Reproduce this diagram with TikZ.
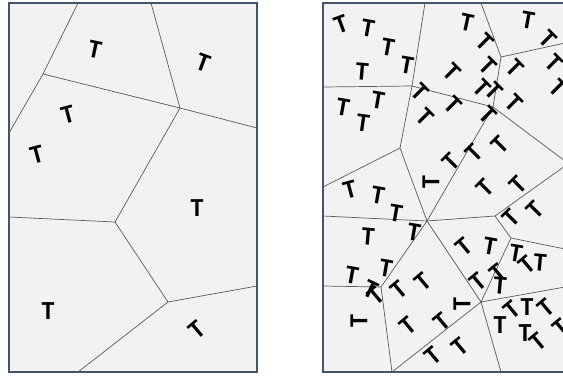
\documentclass[tikz,border=0pt]{standalone}
\usepackage{fontspec}
\setmainfont{Carlito}
\usepackage{tikz}
\definecolor{frameblue}{RGB}{68,84,106}
\definecolor{panelgray}{RGB}{242,242,242}
\definecolor{edgegray}{RGB}{90,90,90}
\begin{document}
\begin{tikzpicture}[x=1pt,y=-1pt,
  panel/.style={draw=frameblue,fill=panelgray,line width=1.3pt},
  cell/.style={draw=edgegray,line width=0.7pt},
  tee/.style={inner sep=0pt,font=\fontsize{26}{26}\selectfont\bfseries}]
\useasboundingbox[fill=white] (0,0) rectangle (563,376);
% left panel: few cells
\draw[panel] (9,3) rectangle (257,372);
\coordinate (a1) at (43,74);
\coordinate (a2) at (180,108);
\coordinate (a3) at (115,222);
\coordinate (a4) at (168,302);
\draw[cell] (78,3) -- (a1) -- (9,133);
\draw[cell] (a1) -- (a2) -- (257,128);
\draw[cell] (151,3) -- (a2) -- (a3) -- (9,217);
\draw[cell] (a3) -- (a4) -- (257,286);
\draw[cell] (a4) -- (78,372);
\node[tee,rotate=-12] (tl1) at (95,50) {T};
\node[tee,rotate=-20] (tl2) at (203,63) {T};
\node[tee,rotate=15] (tl3) at (68,115) {T};
\node[tee,rotate=15] (tl4) at (37,155) {T};
\node[tee] (tl5) at (197,208) {T};
\node[tee] (tl6) at (48,311) {T};
\node[tee,rotate=40] (tl7) at (197,330) {T};
% right panel: many cells
\draw[panel] (323,3) rectangle (568,372);
\coordinate (b1) at (412,86);
\coordinate (b2) at (400,148);
\coordinate (b3) at (427,221);
\coordinate (b4) at (493,107);
\coordinate (b5) at (481,302);
\coordinate (b6) at (381,287);
\coordinate (b7) at (392,372);
\coordinate (b8) at (495,216);
\coordinate (b9) at (511,238);
\coordinate (b10) at (501,57);
\draw[cell] (425,3) -- (b1) -- (323,87);
\draw[cell] (b1) -- (b2) -- (323,187);
\draw[cell] (b2) -- (b3) -- (323,216);
\draw[cell] (b1) -- (b4) -- (b10) -- (481,3);
\draw[cell] (b10) -- (565,43);
\draw[cell] (b4) -- (565,161);
\draw[cell] (b4) -- (b3) -- (b8) -- (565,166);
\draw[cell] (b8) -- (b9) -- (565,249);
\draw[cell] (b9) -- (b5) -- (565,287);
\draw[cell] (b5) -- (b3) -- (b6) -- (323,286);
\draw[cell] (b6) -- (b7) -- (b5) -- (501,372);
\node[tee,rotate=20] (tr1) at (341,24) {T};
\node[tee,rotate=-10] (tr2) at (368,28) {T};
\node[tee,rotate=-10] (tr3) at (388,47) {T};
\node[tee,rotate=-10] (tr4) at (407,65) {T};
\node[tee,rotate=-5] (tr5) at (362,72) {T};
\node[tee,rotate=-10] (tr6) at (343,107) {T};
\node[tee,rotate=-10] (tr7) at (378,100) {T};
\node[tee,rotate=-8] (tr8) at (363,123) {T};
\node[tee,rotate=-45] (tr9) at (420,92) {T};
\node[tee,rotate=-12] (tr10) at (467,23) {T};
\node[tee,rotate=-45] (tr11) at (485,42) {T};
\node[tee,rotate=-45] (tr12) at (452,72) {T};
\node[tee,rotate=-45] (tr13) at (488,66) {T};
\node[tee,rotate=-45] (tr14) at (482,88) {T};
\node[tee,rotate=-45] (tr15) at (494,91) {T};
\node[tee,rotate=-45] (tr16) at (453,105) {T};
\node[tee,rotate=-45] (tr17) at (425,117) {T};
\node[tee,rotate=-45] (tr18) at (488,115) {T};
\node[tee,rotate=-10] (tr19) at (528,20) {T};
\node[tee,rotate=-45] (tr20) at (548,39) {T};
\node[tee,rotate=-45] (tr21) at (515,68) {T};
\node[tee,rotate=-45] (tr22) at (554,63) {T};
\node[tee,rotate=-45] (tr23) at (514,103) {T};
\node[tee,rotate=-45] (tr24) at (558,88) {T};
\node[tee,rotate=45] (tr25) at (451,162) {T};
\node[tee,rotate=45] (tr26) at (474,153) {T};
\node[tee,rotate=45] (tr27) at (500,145) {T};
\node[tee,rotate=90] (tr28) at (431,182) {T};
\node[tee,rotate=45] (tr29) at (485,188) {T};
\node[tee,rotate=45] (tr30) at (518,185) {T};
\node[tee,rotate=45] (tr31) at (535,210) {T};
\node[tee,rotate=45] (tr32) at (511,218) {T};
\node[tee,rotate=15] (tr33) at (350,190) {T};
\node[tee,rotate=-10] (tr34) at (378,195) {T};
\node[tee,rotate=-10] (tr35) at (396,213) {T};
\node[tee,rotate=-10] (tr36) at (414,232) {T};
\node[tee,rotate=-5] (tr37) at (368,237) {T};
\node[tee,rotate=-10] (tr38) at (352,275) {T};
\node[tee,rotate=-10] (tr39) at (386,268) {T};
\node[tee,rotate=-25] (tr40) at (371,290) {T};
\node[tee,rotate=40] (tr41) at (376,296) {T};
\node[tee,rotate=90] (tr42) at (359,321) {T};
\node[tee,rotate=40] (tr43) at (399,290) {T};
\node[tee,rotate=40] (tr44) at (423,282) {T};
\node[tee,rotate=40] (tr45) at (408,326) {T};
\node[tee,rotate=40] (tr46) at (442,322) {T};
\node[tee,rotate=40] (tr47) at (433,356) {T};
\node[tee,rotate=40] (tr48) at (460,347) {T};
\node[tee,rotate=90] (tr49) at (462,304) {T};
\node[tee,rotate=40] (tr50) at (464,247) {T};
\node[tee,rotate=-10] (tr51) at (490,246) {T};
\node[tee,rotate=40] (tr52) at (478,282) {T};
\node[tee,rotate=40] (tr53) at (498,273) {T};
\node[tee,rotate=-5] (tr54) at (500,286) {T};
\node[tee,rotate=-10] (tr55) at (516,253) {T};
\node[tee,rotate=40] (tr56) at (527,265) {T};
\node[tee,rotate=-5] (tr57) at (540,263) {T};
\node[tee] (tr58) at (500,325) {T};
\node[tee,rotate=40] (tr59) at (512,310) {T};
\node[tee] (tr60) at (527,307) {T};
\node[tee,rotate=40] (tr61) at (546,308) {T};
\node[tee] (tr62) at (525,333) {T};
\node[tee,rotate=40] (tr63) at (538,342) {T};
\node[tee,rotate=40] (tr64) at (561,328) {T};
\end{tikzpicture}
\end{document}
